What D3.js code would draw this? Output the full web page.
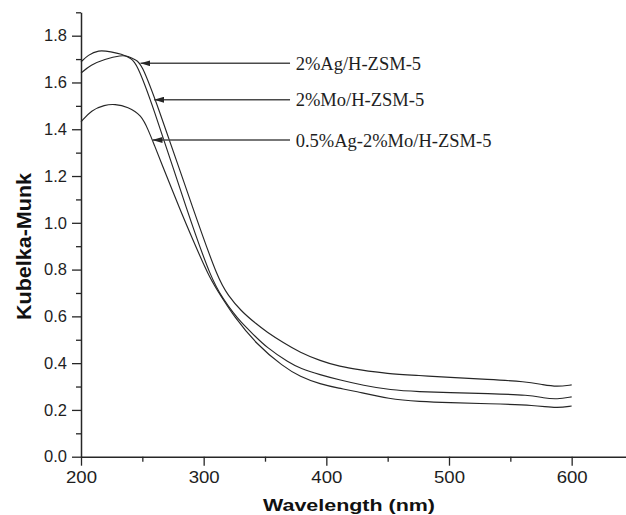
<!DOCTYPE html>
<html>
<head>
<meta charset="utf-8">
<script src="https://cdn.jsdelivr.net/npm/d3@7"></script>
<style>
  html, body { margin: 0; padding: 0; background: #fff; }
  svg { display: block; }
</style>
</head>
<body>
<div id="chart"></div>
<script>
// 2%Ag/H-ZSM-5 (outer curve on the edge, top tail)
const agWl = [200, 208, 219, 233, 238, 245, 249, 261, 293, 312, 320, 330, 343, 351, 365, 378.5, 395, 411, 427, 449, 476, 500, 531, 563, 577, 588, 600];
const agKM = [1.64, 1.675, 1.699, 1.717, 1.713, 1.696, 1.682, 1.525, 1.034, 0.755, 0.69, 0.625, 0.567, 0.535, 0.487, 0.446, 0.41, 0.385, 0.372, 0.355, 0.347, 0.339, 0.331, 0.321, 0.307, 0.299, 0.307];

// 2%Mo/H-ZSM-5
const moWl = [200, 205.7, 214, 224.7, 232.8, 241, 245.4, 257.1, 287.5, 306.5, 316, 324, 330, 340, 351, 370, 378.5, 395, 411, 430, 452, 476, 500, 531, 566, 577, 588, 600];
const moKM = [1.688, 1.717, 1.739, 1.731, 1.722, 1.703, 1.679, 1.525, 1.034, 0.755, 0.675, 0.615, 0.578, 0.525, 0.468, 0.4, 0.378, 0.35, 0.328, 0.305, 0.285, 0.278, 0.274, 0.27, 0.264, 0.251, 0.245, 0.256];

// 0.5%Ag-2%Mo/H-ZSM-5
const agMoWl = [200, 208.4, 219.3, 227.5, 238.3, 249.2, 255, 260, 264.4, 282, 291, 305, 316, 324, 343, 365, 378.5, 395, 411, 422, 452, 476, 500, 531, 571, 588, 600];
const agMoKM = [1.432, 1.482, 1.504, 1.508, 1.496, 1.461, 1.395, 1.33, 1.27, 1.04, 0.93, 0.76, 0.672, 0.605, 0.48, 0.385, 0.342, 0.31, 0.292, 0.282, 0.245, 0.236, 0.231, 0.227, 0.22, 0.207, 0.217];

const labels = ["2%Ag/H-ZSM-5", "2%Mo/H-ZSM-5", "0.5%Ag-2%Mo/H-ZSM-5"];
const tipWl = [248.5, 259.5, 258.3];
const tipKM = [1.682, 1.526, 1.354];
const labelWl = 375;
const lineEndWl = 370.4;

const xMajor = [200, 300, 400, 500, 600];
const xMinor = [250, 350, 450, 550, 650];
const yMajor = [0, 0.2, 0.4, 0.6, 0.8, 1.0, 1.2, 1.4, 1.6, 1.8];
const yMinor = [0.1, 0.3, 0.5, 0.7, 0.9, 1.1, 1.3, 1.5, 1.7, 1.9];

const width = 626;
const height = 515;
const ink = "#262626";

const svg = d3.select("#chart").append("svg")
  .attr("width", width)
  .attr("height", height);

const x = d3.scaleLinear().domain([200, 650]).range([81, 633]);
const y = d3.scaleLinear().domain([0, 1.9]).range([456.7, 12.3]);

svg.append("defs").append("marker")
  .attr("id", "head")
  .attr("viewBox", "0 0 10 6")
  .attr("refX", 10)
  .attr("refY", 3)
  .attr("markerWidth", 10)
  .attr("markerHeight", 6)
  .attr("markerUnits", "userSpaceOnUse")
  .attr("orient", "auto")
  .append("path")
  .attr("d", "M0,0L10,3L0,6Z")
  .attr("fill", ink);

// axes
const styleAxis = (g) => {
  g.selectAll(".domain").attr("stroke", ink).attr("stroke-width", 1.5);
  g.selectAll(".tick line").attr("stroke", ink).attr("stroke-width", 1.3);
  g.selectAll("text")
    .attr("fill", "#1e1e1e")
    .attr("font-family", "'Liberation Sans', Arial, sans-serif");
};

const xAxisG = svg.append("g").attr("transform", `translate(0,${y(0)})`);
xAxisG.call(d3.axisBottom(x).tickValues(xMajor).tickSize(9).tickSizeOuter(0).tickPadding(5).tickFormat(d3.format("d")));
xAxisG.call(styleAxis);
xAxisG.selectAll("text").attr("font-size", 17).attr("textLength", 31).attr("lengthAdjust", "spacingAndGlyphs");

svg.append("g").attr("transform", `translate(0,${y(0)})`)
  .call(d3.axisBottom(x).tickValues(xMinor).tickSize(5).tickSizeOuter(0).tickFormat(""))
  .call(styleAxis)
  .select(".domain").remove();

const yAxisG = svg.append("g").attr("transform", `translate(${x(200)},0)`);
yAxisG.call(d3.axisLeft(y).tickValues(yMajor).tickSize(9).tickSizeOuter(0).tickPadding(5).tickFormat(d3.format(".1f")));
yAxisG.call(styleAxis);
yAxisG.selectAll("text").attr("font-size", 16.5);

svg.append("g").attr("transform", `translate(${x(200)},0)`)
  .call(d3.axisLeft(y).tickValues(yMinor).tickSize(5).tickSizeOuter(0).tickFormat(""))
  .call(styleAxis)
  .select(".domain").remove();

// axis titles
svg.append("text")
  .attr("x", 349)
  .attr("y", 511)
  .attr("text-anchor", "middle")
  .attr("font-family", "'Liberation Sans', Arial, sans-serif")
  .attr("font-weight", "bold")
  .attr("font-size", 16)
  .attr("textLength", 172)
  .attr("lengthAdjust", "spacingAndGlyphs")
  .attr("fill", "#111")
  .text("Wavelength (nm)");

svg.append("text")
  .attr("transform", "translate(31,246.5) rotate(-90)")
  .attr("text-anchor", "middle")
  .attr("font-family", "'Liberation Sans', Arial, sans-serif")
  .attr("font-weight", "bold")
  .attr("font-size", 20)
  .attr("textLength", 147)
  .attr("lengthAdjust", "spacingAndGlyphs")
  .attr("fill", "#111")
  .text("Kubelka-Munk");

// spectra
const series = [
  { wl: agWl, km: agKM },
  { wl: moWl, km: moKM },
  { wl: agMoWl, km: agMoKM },
];

const line = d3.line()
  .x((d) => x(d[0]))
  .y((d) => y(d[1]))
  .curve(d3.curveBasis);

svg.append("g").attr("id", "lines-g")
  .selectAll("path")
  .data(series)
  .join("path")
  .attr("d", (s) => line(s.wl.map((w, i) => [w, s.km[i]])))
  .attr("fill", "none")
  .attr("stroke", ink)
  .attr("stroke-width", 1.15);

// labels with arrows
const annG = svg.append("g").attr("id", "ann-g")
  .selectAll("g")
  .data(labels)
  .join("g");

annG.append("line")
  .attr("x1", x(lineEndWl))
  .attr("x2", (d, i) => x(tipWl[i]))
  .attr("y1", (d, i) => y(tipKM[i]))
  .attr("y2", (d, i) => y(tipKM[i]))
  .attr("stroke", "#4a4a4a")
  .attr("stroke-width", 1.6)
  .attr("marker-end", "url(#head)");

annG.append("text")
  .attr("x", x(labelWl))
  .attr("y", (d, i) => y(tipKM[i]) + 6.5)
  .attr("font-family", "'Liberation Serif', 'Times New Roman', serif")
  .attr("font-size", 18.5)
  .attr("fill", "#1e1e1e")
  .text((d) => d);
</script>
</body>
</html>
